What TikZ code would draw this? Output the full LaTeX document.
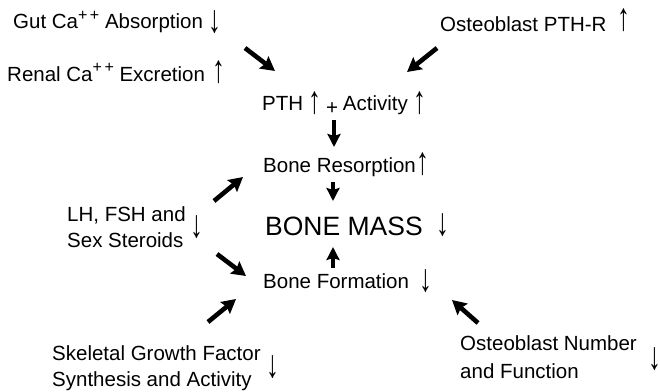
\documentclass[tikz,border=0pt]{standalone}
\usepackage{fontspec}
\setmainfont{Liberation Sans}
\usetikzlibrary{arrows.meta}
\newcommand{\pp}[1][7.5pt]{\raisebox{#1}{\fontsize{16}{16}\selectfont +\kern2.5pt+}}
\newcommand{\uarr}{\scalebox{1.25}[1.9]{↑}}
\newcommand{\darr}{\scalebox{1.25}[1.9]{↓}}
\begin{document}
\begin{tikzpicture}[x=1pt,y=-1pt,
  lbl/.style={inner sep=0pt,anchor=base west,font=\fontsize{20.5}{26}\selectfont},
  glyph/.style={inner sep=0pt,anchor=center,font=\fontsize{20.5}{20.5}\selectfont},
  bigarrow/.style={line width=4.6pt,-{Stealth[length=14pt,width=15pt,inset=2pt]}},
  varrow/.style={line width=4pt,-{Stealth[length=13pt,width=13pt,inset=2pt]}}]
\useasboundingbox (0,0) rectangle (660,391);
% texts
\node[lbl] (gut) at (13,28) {Gut Ca\pp{} Absorption};
\node[glyph] (gutg) at (215,22) {\darr};
\node[lbl] (renal) at (7,81) {Renal Ca\pp[9pt]{} Excretion};
\node[glyph] (renalg) at (219,72) {\uarr};
\node[lbl] (opthr) at (440,31) {Osteoblast PTH-R};
\node[glyph] (opthrg) at (624,20) {\uarr};
\node[lbl] (pth) at (262,110) {PTH\hspace{5pt}\raisebox{-3pt}{\uarr}\hspace{5pt}\raisebox{-4pt}{+}\hspace{5pt}Activity\hspace{6pt}\raisebox{-3pt}{\uarr}};
\node[lbl] (res) at (263,172) {Bone Resorption\hspace{1pt}\raisebox{-2pt}{\uarr}};
\node[lbl,font=\fontsize{26.5}{30}\selectfont] (mass) at (265,235) {BONE MASS};
\node[glyph] (massg) at (443,225) {\darr};
\node[lbl] (form) at (263,288) {Bone Formation};
\node[glyph] (formg) at (426,281) {\darr};
\node[lbl] (lh) at (67,221) {\begin{tabular}[t]{@{}l@{}}LH, FSH and\\Sex Steroids\end{tabular}};
\node[glyph] (lhg) at (197,227) {\darr};
\node[lbl] (skel) at (52,360) {\begin{tabular}[t]{@{}l@{}}Skeletal Growth Factor\\Synthesis and Activity\end{tabular}};
\node[glyph] (skelg) at (273,367) {\darr};
\node[lbl,font=\fontsize{20.5}{28}\selectfont] (onum) at (460,350) {\begin{tabular}[t]{@{}l@{}}Osteoblast Number\\and Function\end{tabular}};
\node[glyph] (onumg) at (655,359) {\darr};
% arrow ends
\coordinate (a1s) at (245,48);  \coordinate (a1e) at (275,71);
\coordinate (a2s) at (437,48);  \coordinate (a2e) at (407,72);
\coordinate (a3s) at (334,120); \coordinate (a3e) at (334,147);
\coordinate (a4s) at (333,182); \coordinate (a4e) at (333,201);
\coordinate (a5s) at (333,268); \coordinate (a5e) at (333,247);
\coordinate (a6s) at (214,201); \coordinate (a6e) at (243,177);
\coordinate (a7s) at (217,254); \coordinate (a7e) at (246,276);
\coordinate (a8s) at (208,322); \coordinate (a8e) at (236,299);
\coordinate (a9s) at (478,323); \coordinate (a9e) at (452,300);
\draw[bigarrow] (a1s) -- (a1e);
\draw[bigarrow] (a2s) -- (a2e);
\draw[varrow] (a3s) -- (a3e);
\draw[varrow] (a4s) -- (a4e);
\draw[varrow] (a5s) -- (a5e);
\draw[bigarrow] (a6s) -- (a6e);
\draw[bigarrow] (a7s) -- (a7e);
\draw[bigarrow] (a8s) -- (a8e);
\draw[bigarrow] (a9s) -- (a9e);
\end{tikzpicture}
\end{document}
